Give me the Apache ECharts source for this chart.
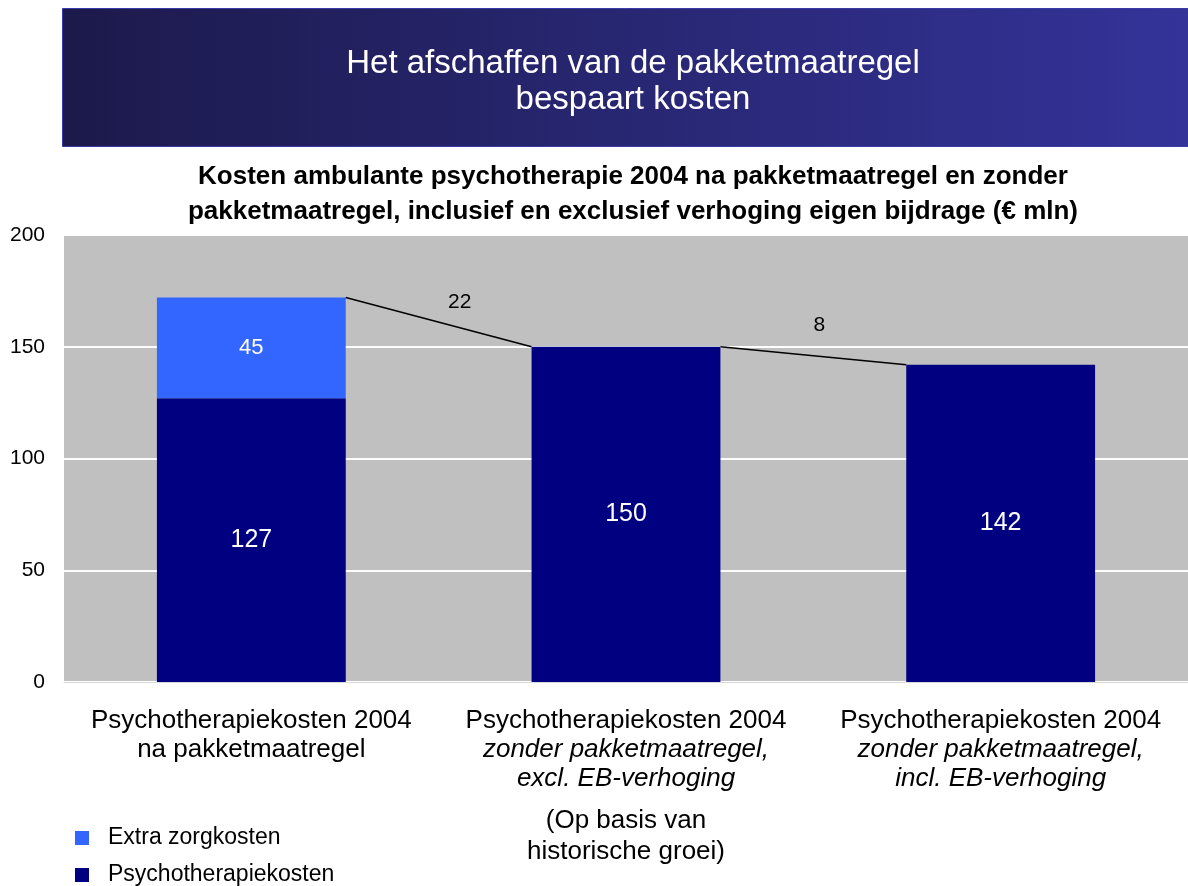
<!DOCTYPE html>
<html>
<head>
<meta charset="utf-8">
<script src="https://cdn.jsdelivr.net/npm/echarts@6/dist/echarts.min.js"></script>
<style>
  html, body { margin: 0; padding: 0; background: #fff; }
  #chart { width: 1188px; height: 886px; }
</style>
</head>
<body>
<div id="chart"></div>
<script>
// data
const categories = ['na', 'excl', 'incl']
const psychoKosten = [127, 150, 142]
const extraKosten = [45, null, null]
const yTicks = [0, 50, 100, 150, 200]

const totals = psychoKosten.map((v, i) => v + (extraKosten[i] || 0))
// verschil tussen opeenvolgende staven
const steps = totals.slice(1).map((v, i) => [i, totals[i], v, totals[i] - v])

const labelLines = {
  na: '{n|Psychotherapiekosten 2004}\n{n|na pakketmaatregel}',
  excl: '{n|Psychotherapiekosten 2004}\n{i|zonder pakketmaatregel,}\n{i|excl. EB-verhoging}',
  incl: '{n|Psychotherapiekosten 2004}\n{i|zonder pakketmaatregel,}\n{i|incl. EB-verhoging}'
}
const notes = {
  na: '',
  excl: '(Op basis van\nhistorische groei)',
  incl: ''
}

const FONT = '"Liberation Sans", Arial, sans-serif'
const chart = echarts.init(document.getElementById('chart'))
const barFrac = 0.504
const stepLabelOffsets = [[21, -20], [6, -30]]

chart.setOption({
  animation: false,
  textStyle: { fontFamily: FONT },
  graphic: [{
    type: 'rect',
    left: 62,
    top: 8,
    shape: { width: 1126, height: 138 },
    style: {
      fill: new echarts.graphic.LinearGradient(0, 0, 1, 0, [
        { offset: 0, color: '#1c1a4b' },
        { offset: 1, color: '#343399' }
      ]),
      stroke: '#3a3aa8',
      lineWidth: 1
    },
    z: 0
  }],
  title: [{
    text: 'Het afschaffen van de pakketmaatregel\nbespaart kosten',
    left: 628,
    top: 41,
    textAlign: 'center',
    textStyle: { color: '#fff', fontSize: 33, fontWeight: 'normal', lineHeight: 36, fontFamily: FONT }
  }, {
    text: 'Kosten ambulante psychotherapie 2004 na pakketmaatregel en zonder\npakketmaatregel, inclusief en exclusief verhoging eigen bijdrage (€ mln)',
    left: 628,
    top: 154,
    textAlign: 'center',
    textStyle: { color: '#000', fontSize: 26, fontWeight: 'bold', lineHeight: 35, fontFamily: FONT }
  }],
  legend: {
    orient: 'vertical',
    left: 70,
    top: 821,
    height: 80,
    padding: 5,
    itemWidth: 14,
    itemHeight: 14,
    itemGap: 13,
    icon: 'rect',
    data: ['Extra zorgkosten', 'Psychotherapiekosten'],
    textStyle: { fontSize: 23, color: '#000', fontFamily: FONT, lineHeight: 24, padding: [0, 0, 0, 14] }
  },
  grid: {
    left: 64,
    right: 0,
    top: 235,
    bottom: 204,
    show: true,
    backgroundColor: '#c0c0c0',
    borderWidth: 0
  },
  xAxis: [{
    type: 'category',
    data: categories,
    axisLine: { show: true, lineStyle: { color: '#d8d8d8', width: 1 } },
    axisTick: { show: false },
    axisLabel: {
      margin: 24,
      interval: 0,
      formatter: v => labelLines[v],
      rich: {
        n: { fontSize: 26, color: '#000', lineHeight: 29, fontFamily: FONT },
        i: { fontSize: 26, color: '#000', lineHeight: 29, fontStyle: 'italic', fontFamily: FONT }
      }
    }
  }, {
    type: 'category',
    data: categories,
    position: 'bottom',
    axisLine: { show: false },
    axisTick: { show: false },
    splitLine: { show: false },
    axisLabel: {
      margin: 123,
      interval: 0,
      formatter: v => notes[v],
      fontSize: 26,
      lineHeight: 31,
      color: '#000',
      fontFamily: FONT
    }
  }],
  yAxis: {
    type: 'value',
    min: yTicks[0],
    max: yTicks[yTicks.length - 1],
    interval: 50,
    axisLine: { show: false },
    axisTick: { show: false },
    axisLabel: { fontSize: 21, color: '#000', margin: 19, fontFamily: FONT },
    splitLine: { lineStyle: { color: '#fff', width: 2 } }
  },
  series: [{
    name: 'Psychotherapiekosten',
    type: 'bar',
    stack: 'k',
    barWidth: (barFrac * 100) + '%',
    data: psychoKosten,
    itemStyle: { color: '#000080' },
    label: { show: true, position: 'inside', color: '#fff', fontSize: 25, fontFamily: FONT }
  }, {
    name: 'Extra zorgkosten',
    type: 'bar',
    stack: 'k',
    data: extraKosten,
    itemStyle: { color: '#3366ff' },
    label: { show: true, position: 'inside', color: '#fff', fontSize: 22, fontFamily: FONT }
  }, {
    type: 'custom',
    data: steps,
    z: 5,
    renderItem: (params, api) => {
      const i = api.value(0)
      const catW = api.size([1, 0])[0]
      const half = catW * barFrac / 2
      const a = api.coord([i, api.value(1)])
      const b = api.coord([i + 1, api.value(2)])
      const x1 = a[0] + half, y1 = a[1]
      const x2 = b[0] - half, y2 = b[1]
      const off = stepLabelOffsets[params.dataIndex]
      return {
        type: 'group',
        children: [{
          type: 'line',
          shape: { x1: x1, y1: y1, x2: x2, y2: y2 },
          style: { stroke: '#000', lineWidth: 1.5 }
        }, {
          type: 'text',
          x: (x1 + x2) / 2 + off[0],
          y: (y1 + y2) / 2 + off[1],
          style: {
            text: String(api.value(3)),
            fill: '#000',
            font: '21px ' + FONT,
            align: 'center',
            verticalAlign: 'middle'
          }
        }]
      }
    }
  }]
})
</script>
</body>
</html>
